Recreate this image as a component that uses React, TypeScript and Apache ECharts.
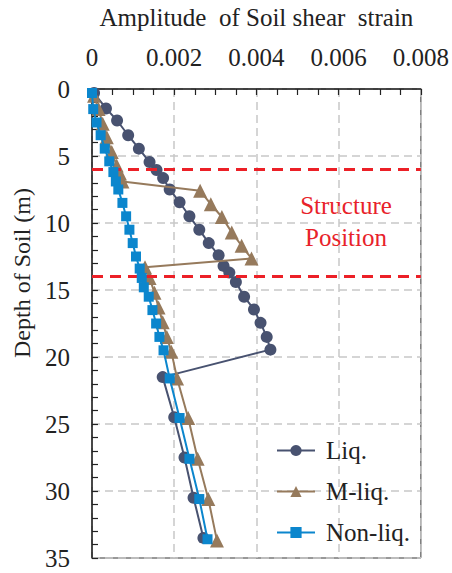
import React, { useEffect, useRef } from "react";
import * as echarts from "echarts";

const xTicks = [0, 0.002, 0.004, 0.006, 0.008];
const yTicks = [0, 5, 10, 15, 20, 25, 30, 35];
const structureDepths = [6, 14];

const liqDepth = [0.3, 1.45, 2.35, 3.45, 4.45, 5.45, 6.05, 6.65, 7.5, 8.45, 9.5, 10.5, 11.5, 12.4, 13.2, 13.7, 14.4, 15.5, 16.45, 17.45, 18.5, 19.45, 21.5, 24.5, 27.5, 30.5, 33.5];
const liqStrain = [0.00005, 0.00034, 0.00061, 0.00088, 0.00114, 0.0014, 0.00157, 0.00173, 0.00189, 0.00213, 0.00237, 0.00261, 0.00284, 0.00308, 0.0032, 0.00334, 0.0035, 0.0037, 0.00394, 0.0041, 0.00425, 0.00434, 0.00172, 0.002, 0.00225, 0.00247, 0.00271];

const mliqDepth = [0.5, 1.5, 2.6, 3.6, 4.7, 5.7, 6.3, 6.9, 7.6, 8.6, 9.55, 10.7, 11.7, 12.65, 13.3, 14.1, 15.2, 16.3, 17.4, 18.5, 19.6, 21.6, 24.55, 27.6, 30.6, 33.7];
const mliqStrain = [0.00005, 0.00016, 0.00026, 0.00036, 0.00048, 0.0006, 0.00068, 0.00074, 0.00263, 0.00289, 0.00316, 0.0034, 0.00364, 0.00388, 0.00129, 0.0014, 0.00152, 0.00162, 0.00172, 0.00182, 0.00193, 0.00207, 0.00234, 0.00257, 0.00283, 0.00304];

const nonDepth = [0.3, 1.5, 2.5, 3.45, 4.45, 5.4, 6.2, 6.9, 7.5, 8.5, 9.5, 10.5, 11.5, 12.5, 13.4, 14.1, 14.8, 15.5, 16.5, 17.5, 18.5, 19.5, 21.6, 24.55, 27.6, 30.6, 33.6];
const nonStrain = [0.0, 0.00003, 0.00011, 0.00021, 0.00031, 0.00042, 0.00052, 0.00058, 0.00064, 0.00074, 0.00083, 0.00091, 0.00099, 0.00107, 0.00116, 0.00121, 0.00126, 0.00138, 0.00147, 0.00156, 0.00164, 0.00174, 0.00189, 0.00213, 0.00237, 0.00261, 0.00281];

const seriesNames = ["Liq.", "M-liq.", "Non-liq."];
const colors = ["#485270", "#967a5c", "#0b86cd"];

const FONT = "'Liberation Serif', 'Times New Roman', serif";

function pairs(xs: number[], ys: number[]) {
  return xs.map((x, i) => [x, ys[i]]);
}

export default function App() {
  const ref = useRef<HTMLDivElement>(null);
  useEffect(() => {
    document.body.style.margin = "0";
    if (!ref.current) return;
    const chart = echarts.init(ref.current, null, { renderer: "svg" });
    const option: any = {
      animation: false,
      backgroundColor: "#ffffff",
      textStyle: { fontFamily: FONT },
      grid: {
        left: 92, top: 85, right: 29, bottom: 15,
        show: true, borderColor: "#333", borderWidth: 1, backgroundColor: "transparent",
      },
      xAxis: {
        type: "value",
        position: "top",
        min: xTicks[0],
        max: xTicks[xTicks.length - 1],
        interval: xTicks[1] - xTicks[0],
        name: "Amplitude  of Soil shear  strain",
        nameLocation: "middle",
        nameGap: 59,
        nameTextStyle: { fontFamily: FONT, fontSize: 25, color: "#222" },
        axisLine: { show: true, lineStyle: { color: "#222", width: 1.5 } },
        axisTick: { show: true, inside: true, length: 6, lineStyle: { color: "#222", width: 1.2 } },
        minorTick: { show: true, splitNumber: 4, length: 6, lineStyle: { color: "#222", width: 1.2 } },
        axisLabel: { fontFamily: FONT, fontSize: 25, color: "#222", margin: 19 },
        splitLine: { show: true, lineStyle: { color: "#c8c8c8", width: 1.5, type: [8, 5] } },
      },
      yAxis: {
        type: "value",
        inverse: true,
        min: yTicks[0],
        max: yTicks[yTicks.length - 1],
        interval: yTicks[1] - yTicks[0],
        axisLine: { show: true, lineStyle: { color: "#222", width: 1.5 } },
        axisTick: { show: true, inside: true, length: 6, lineStyle: { color: "#222", width: 1.2 } },
        minorTick: { show: true, splitNumber: 5, length: 6, lineStyle: { color: "#222", width: 1.2 } },
        axisLabel: { fontFamily: FONT, fontSize: 25, color: "#222", margin: 22 },
        splitLine: { show: true, lineStyle: { color: "#c8c8c8", width: 1.5, type: [8, 5] } },
      },
      legend: {
        orient: "vertical",
        left: 271,
        top: 433,
        itemWidth: 38,
        itemHeight: 14,
        itemGap: 16,
        backgroundColor: "transparent",
        textStyle: { fontFamily: FONT, fontSize: 25, color: "#222", padding: [0, 0, 0, 6] },
        data: seriesNames,
      },
      graphic: [
        {
          type: "text",
          x: 346, y: 189,
          style: {
            text: "Structure\nPosition",
            fill: "#e8222a",
            font: `25px ${FONT}`,
            align: "center",
            lineHeight: 32,
          },
        },
        {
          type: "text",
          x: 22, y: 273,
          rotation: Math.PI / 2,
          style: {
            text: "Depth of Soil (m)",
            fill: "#222",
            font: `24px ${FONT}`,
            align: "center",
            verticalAlign: "middle",
          },
        },
      ],
      series: [
        {
          name: seriesNames[0],
          type: "line",
          data: pairs(liqStrain, liqDepth),
          symbol: "circle",
          symbolSize: 12,
          color: colors[0],
          lineStyle: { width: 2, color: colors[0] },
          itemStyle: { color: colors[0] },
          z: 3,
        },
        {
          name: seriesNames[1],
          type: "line",
          data: pairs(mliqStrain, mliqDepth),
          symbol: "triangle",
          symbolSize: 14,
          color: colors[1],
          lineStyle: { width: 2, color: colors[1] },
          itemStyle: { color: colors[1] },
          z: 4,
        },
        {
          name: seriesNames[2],
          type: "line",
          data: pairs(nonStrain, nonDepth),
          symbol: "rect",
          symbolSize: 10,
          color: colors[2],
          lineStyle: { width: 2, color: colors[2] },
          itemStyle: { color: colors[2] },
          z: 5,
          markLine: {
            silent: true,
            symbol: "none",
            label: { show: false },
            lineStyle: { color: "#ec2027", width: 3, type: [11, 7] },
            data: structureDepths.map((d) => ({ yAxis: d })),
          },
        },
      ],
    };
    chart.setOption(option);
    return () => chart.dispose();
  }, []);
  return <div ref={ref} style={{ width: 452, height: 573 }} />;
}
